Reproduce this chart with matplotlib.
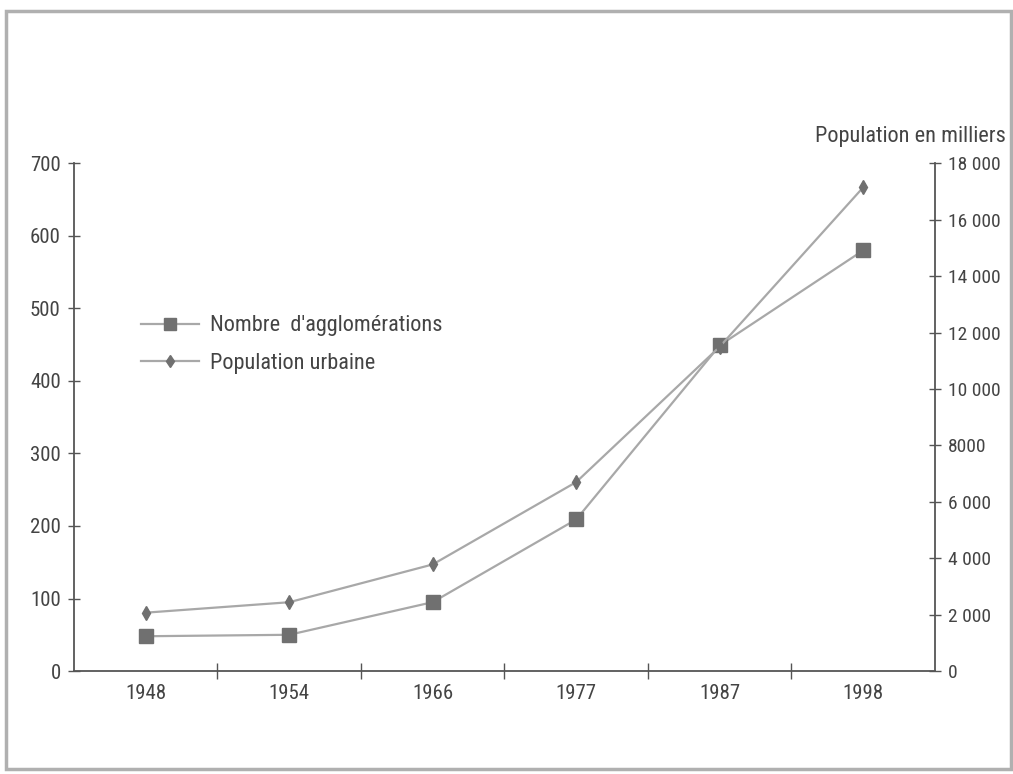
import numpy as np
import matplotlib
matplotlib.use("Agg")
import matplotlib.pyplot as plt
from matplotlib import font_manager
from matplotlib.patches import Rectangle
from matplotlib.ticker import FixedLocator

# pick a narrow-ish font if one is around
available = {f.name for f in font_manager.fontManager.ttflist}
for cand in ['Roboto Condensed', 'Open Sans Condensed', 'DejaVu Sans Condensed',
             'Liberation Sans Narrow', 'Roboto', 'Liberation Sans']:
    if cand in available:
        font_name = cand
        break
else:
    font_name = 'DejaVu Sans'
plt.rcParams['font.family'] = [font_name, 'DejaVu Sans']
narrow = font_name in ('Roboto Condensed', 'Open Sans Condensed',
                       'DejaVu Sans Condensed', 'Liberation Sans Narrow')
fs = 16 if narrow else 13

# data
annees = ['1948', '1954', '1966', '1977', '1987', '1998']
agglomerations = [48, 50, 95, 209, 449, 580]
population = [2070, 2440, 3780, 6700, 11500, 17150]
left_ticks = [0, 100, 200, 300, 400, 500, 600, 700]
right_ticks = [0, 2000, 4000, 6000, 8000, 10000, 12000, 14000, 16000, 18000]
right_labels = ['0', '2 000', '4 000', '6 000', '8000', '10 000', '12 000', '14 000', '16 000', '18 000']

line_col = '#a8a8a8'
mark_col = '#707070'
axis_col = '#555555'
text_col = '#444444'

fig = plt.figure(figsize=(10.13, 7.74), dpi=100)
fig.patches.append(Rectangle((0.006, 0.007), 0.992, 0.979, transform=fig.transFigure,
                             fill=False, edgecolor='#b0b0b0', linewidth=2.5))

ax = fig.add_axes([0.073, 0.133, 0.850, 0.656])
ax2 = ax.twinx()

x = np.arange(len(annees))
l1, = ax.plot(x, agglomerations, color=line_col, lw=1.6, marker='s', markersize=10,
              markerfacecolor=mark_col, markeredgecolor=mark_col, label="Nombre  d'agglomérations")
l2, = ax2.plot(x, population, color=line_col, lw=1.6, marker='d', markersize=7.5,
               markerfacecolor=mark_col, markeredgecolor=mark_col, label='Population urbaine')

ax.set_xlim(-0.5, len(annees) - 0.5)
ax.set_ylim(0, 700)
ax2.set_ylim(0, 18000)

for a in (ax, ax2):
    a.spines['top'].set_visible(False)
    for s in ('left', 'right', 'bottom'):
        a.spines[s].set_color(axis_col)
        a.spines[s].set_linewidth(1.3)
ax.spines['right'].set_visible(False)
ax2.spines['left'].set_visible(False)
ax2.spines['bottom'].set_visible(False)

ax.set_xticks(x)
ax.set_xticklabels(annees)
ax.xaxis.set_minor_locator(FixedLocator(np.arange(0.5, len(annees) - 0.5, 1)))
ax.tick_params(axis='x', which='major', length=0, pad=9, labelsize=fs - 1, labelcolor=text_col)
ax.tick_params(axis='x', which='minor', direction='inout', length=12, width=1, color=axis_col)

ax.set_yticks(left_ticks)
ax.tick_params(axis='y', direction='inout', length=9, width=1, color=axis_col,
               labelsize=fs - 1, labelcolor=text_col, pad=5)
ax2.set_yticks(right_ticks)
ax2.set_yticklabels(right_labels)
ax2.tick_params(axis='y', direction='inout', length=9, width=1, color=axis_col,
                labelsize=fs - 2, labelcolor=text_col, pad=5)

fig.text(0.993, 0.823, 'Population en milliers', ha='right', va='center',
         fontsize=fs, color=text_col)

ax.legend(handles=[l1, l2], loc='upper left', bbox_to_anchor=(0.055, 0.74), frameon=False,
          fontsize=fs, handlelength=2.6, handletextpad=0.5, labelspacing=0.75,
          markerscale=0.8, labelcolor=text_col)

plt.savefig('out.png', dpi=100)
